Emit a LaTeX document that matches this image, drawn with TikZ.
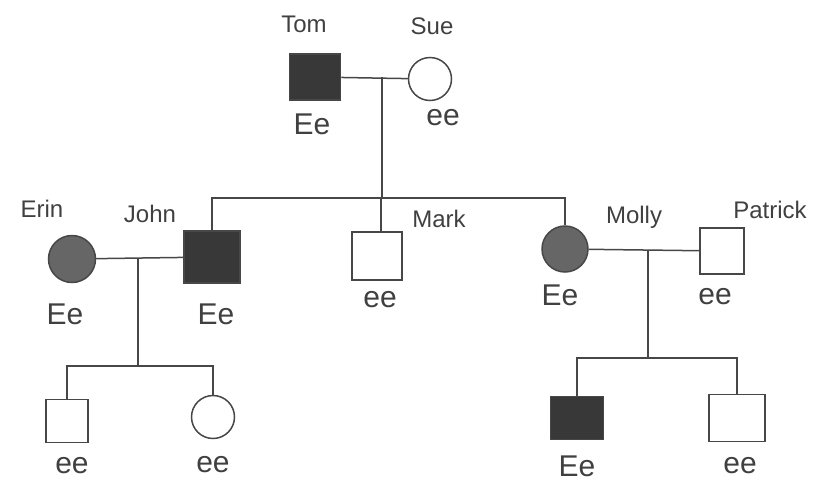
\documentclass[tikz,border=0pt]{standalone}
\usepackage{fontspec}
\setmainfont{Liberation Sans}
\usetikzlibrary{positioning, calc}
\tikzset{%
   % pedigree symbols: square = male, circle = female, filled = affected
   sq/.style={
      rectangle,
      draw=black!72,
      line width=1.5pt,
      inner sep=0pt,
      minimum width=48pt,
      minimum height=46pt
   },
   sqa/.style={sq, fill=black!78},
   ci/.style={
      circle,
      draw=black!72,
      line width=1.5pt,
      inner sep=0pt,
      minimum size=44pt
   },
   cia/.style={ci, fill=black!60},
   nm/.style={font=\fontsize{24}{26}\selectfont, text=black!75},
   gt/.style={font=\fontsize{30}{32}\selectfont, text=black!75},
   ln/.style={line width=1.5pt, draw=black!72},
}

\begin{document}
\begin{tikzpicture}[x=1pt, y=-1pt]
   \useasboundingbox (0,0) rectangle (818,485);

   % first generation
   \node[sqa, minimum width=51pt] (tom) at (315,77) {};
   \node[ci, minimum size=43pt] (sue) at (430,79) {};
   \node[nm] (tomN) at (304,24) {Tom};
   \node[nm] (sueN) at (432,26) {Sue};
   \node[gt] (tomG) at (312,124) {Ee};
   \node[gt] (sueG) at (443,118) {ee};

   % second generation
   \node[cia, minimum size=47pt] (erin) at (72,259) {};
   \node[sqa, minimum width=56pt, minimum height=52pt] (john) at (212,257) {};
   \node[sq, minimum width=50pt, minimum height=48pt] (mark) at (377,256) {};
   \node[cia, minimum size=46pt] (molly) at (565,249) {};
   \node[sq, minimum width=44pt, minimum height=46pt] (patrick) at (722,251) {};
   \node[nm] (erinN) at (42,209) {Erin};
   \node[nm] (johnN) at (150,214) {John};
   \node[nm] (markN) at (439,219) {Mark};
   \node[nm] (mollyN) at (634,217) {Molly};
   \node[nm] (patrickN) at (770,210) {Patrick};
   \node[gt] (erinG) at (65,314) {Ee};
   \node[gt] (johnG) at (216,314) {Ee};
   \node[gt] (markG) at (380,300) {ee};
   \node[gt] (mollyG) at (560,295) {Ee};
   \node[gt] (patrickG) at (715,297) {ee};

   % third generation
   \node[sq, minimum width=42pt, minimum height=43pt] (k1) at (67,421) {};
   \node[ci, minimum size=43pt] (k2) at (213,417) {};
   \node[sqa, minimum width=53pt, minimum height=43pt] (k3) at (577,418) {};
   \node[sq, minimum width=56pt, minimum height=47pt] (k4) at (737,418) {};
   \node[gt] (k1G) at (72,466) {ee};
   \node[gt] (k2G) at (213,465) {ee};
   \node[gt] (k3G) at (577,466) {Ee};
   \node[gt] (k4G) at (740,466) {ee};

   % matings and descent lines
   \coordinate (ts) at (382,77);
   \coordinate (tsK) at (382,198);
   \coordinate (markT) at (381,198);
   \coordinate (ej) at (138,258);
   \coordinate (ejK) at (138,366);
   \coordinate (mp) at (648,250);
   \coordinate (mpK) at (648,358);

   \draw[ln] (tom) -- (sue);
   \draw[ln] (ts) -- (tsK);
   \draw[ln] (tsK) -| (john);
   \draw[ln] (tsK) -| (molly);
   \draw[ln] (markT) -- (markT |- mark.north);

   \draw[ln] (erin) -- (john);
   \draw[ln] (ej) -- (ejK);
   \draw[ln] (ejK) -| (k1);
   \draw[ln] (ejK) -| (k2);

   \draw[ln] (molly) -- (patrick);
   \draw[ln] (mp) -- (mpK);
   \draw[ln] (mpK) -| (k3);
   \draw[ln] (mpK) -| (k4);
\end{tikzpicture}
\end{document}
